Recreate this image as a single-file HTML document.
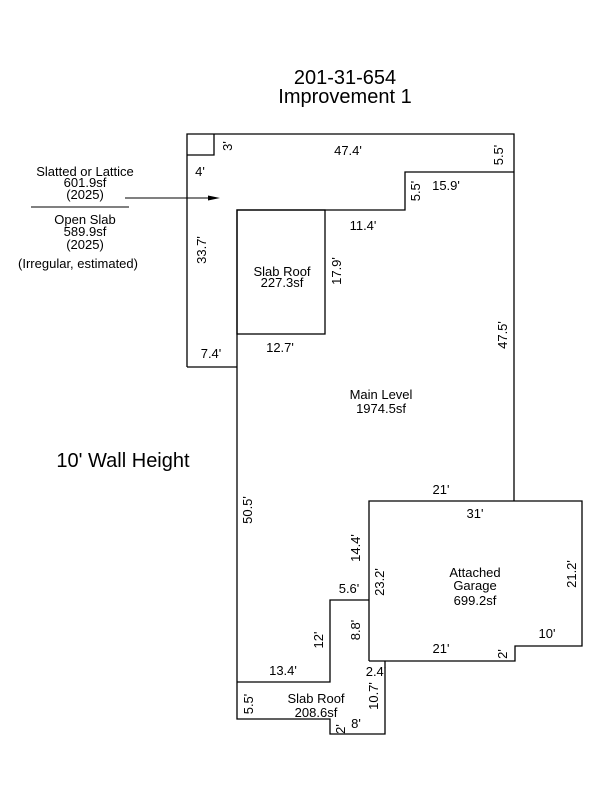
<!DOCTYPE html>
<html><head><meta charset="utf-8"><style>
html,body{margin:0;padding:0;background:#fff;}
svg{display:block;}
text{font-family:"Liberation Sans",Arial,sans-serif;fill:#000;}
</style></head><body>
<svg width="600" height="800" viewBox="0 0 600 800" xmlns="http://www.w3.org/2000/svg">
<g fill="none" stroke="#000" stroke-width="1.3">
<polyline points="187,367 187,134 514,134 514,501"/>
<polyline points="187,155 214,155 214,134"/>
<polyline points="187,367 237,367"/>
<polyline points="514,172 405,172 405,210 237,210 237,682"/>
<rect x="237" y="210" width="88" height="124"/>
<polyline points="237,682 330,682 330,600 369,600"/>
<polyline points="369,661 369,501 582,501 582,646 515,646 515,661 369,661"/>
<polyline points="237,682 237,719 330,719 330,734 385,734 385,661"/>
<line x1="31" y1="207" x2="129" y2="207" stroke-width="1"/>
<line x1="125" y1="198" x2="212" y2="198" stroke-width="1"/>
</g>
<polygon points="220,198 208,195.5 208,200.5" fill="#000"/>
<g font-size="20" text-anchor="middle">
<text x="345" y="84">201-31-654</text>
<text x="345" y="103">Improvement 1</text>
</g>
<text x="123" y="467" font-size="20" text-anchor="middle">10' Wall Height</text>
<g font-size="13" text-anchor="middle">
<text x="85" y="176">Slatted or Lattice</text>
<text x="85" y="187">601.9sf</text>
<text x="85" y="199">(2025)</text>
<text x="85" y="224">Open Slab</text>
<text x="85" y="236">589.9sf</text>
<text x="85" y="249">(2025)</text>
<text x="78" y="268">(Irregular, estimated)</text>
<text x="348" y="155">47.4'</text>
<text x="200" y="176">4'</text>
<text x="446" y="190">15.9'</text>
<text x="363" y="230">11.4'</text>
<text x="282" y="276">Slab Roof</text>
<text x="282" y="287">227.3sf</text>
<text x="280" y="352">12.7'</text>
<text x="211" y="358">7.4'</text>
<text x="381" y="399">Main Level</text>
<text x="381" y="413">1974.5sf</text>
<text x="441" y="494">21'</text>
<text x="475" y="518">31'</text>
<text x="475" y="577">Attached</text>
<text x="475" y="590">Garage</text>
<text x="475" y="605">699.2sf</text>
<text x="547" y="638">10'</text>
<text x="441" y="653">21'</text>
<text x="349" y="593">5.6'</text>
<text x="283" y="675">13.4'</text>
<text x="316" y="703">Slab Roof</text>
<text x="316" y="717">208.6sf</text>
<text x="376" y="676">2.4'</text>
<text x="356" y="728">8'</text>
</g>
<g font-size="13" text-anchor="middle">
<text transform="translate(232,146) rotate(-90)">3'</text>
<text transform="translate(503,155) rotate(-90)">5.5'</text>
<text transform="translate(420,191) rotate(-90)">5.5'</text>
<text transform="translate(206,250) rotate(-90)">33.7'</text>
<text transform="translate(341,271) rotate(-90)">17.9'</text>
<text transform="translate(507,335) rotate(-90)">47.5'</text>
<text transform="translate(252,510) rotate(-90)">50.5'</text>
<text transform="translate(360,548) rotate(-90)">14.4'</text>
<text transform="translate(384,582) rotate(-90)">23.2'</text>
<text transform="translate(576,574) rotate(-90)">21.2'</text>
<text transform="translate(360,630) rotate(-90)">8.8'</text>
<text transform="translate(323,640) rotate(-90)">12'</text>
<text transform="translate(507,654) rotate(-90)">2'</text>
<text transform="translate(378,696) rotate(-90)">10.7'</text>
<text transform="translate(253,704) rotate(-90)">5.5'</text>
<text transform="translate(345,729) rotate(-90)">2'</text>
</g>
</svg>
</body></html>
